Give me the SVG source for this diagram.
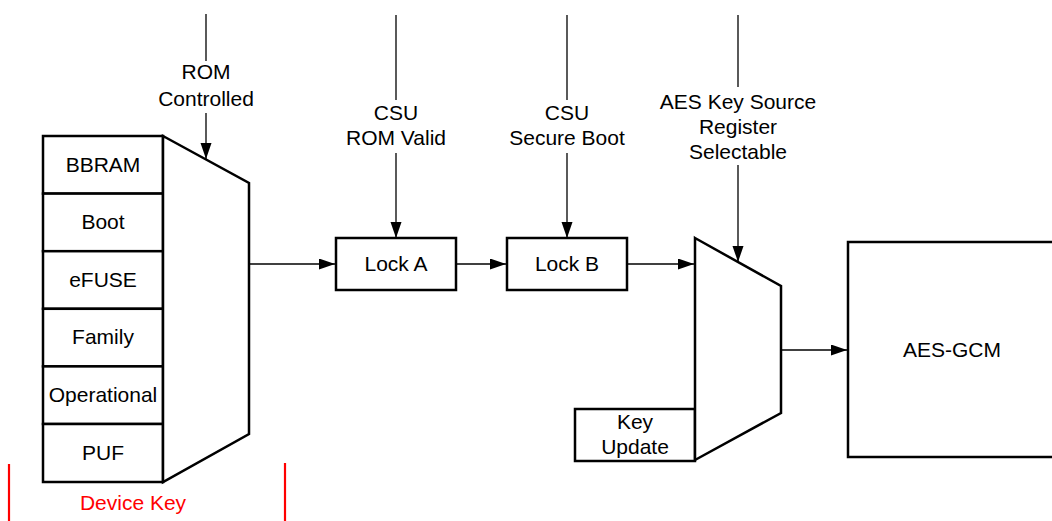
<svg xmlns="http://www.w3.org/2000/svg" width="1052" height="521" viewBox="0 0 1052 521">
<style>
text{font-family:"Liberation Sans",Arial,sans-serif;font-size:21px;fill:#000;text-anchor:middle}
.shape{fill:#fff;stroke:#000;stroke-width:2.5}
.conn{fill:none;stroke:#000;stroke-width:1.3}
.red{stroke:#f00;stroke-width:2.2}
</style>
<defs>
<marker id="arr" markerUnits="userSpaceOnUse" markerWidth="17" markerHeight="12" refX="16" refY="5.5" orient="auto">
<path d="M0,0 L16,5.5 L0,11 Z" fill="#000"/>
</marker>
</defs>
<rect width="1052" height="521" fill="#fff"/>
<g id="device-key-stack">
<rect class="shape" x="43" y="136" width="120" height="57.6"/>
<rect class="shape" x="43" y="193.6" width="120" height="57.6"/>
<rect class="shape" x="43" y="251.2" width="120" height="57.6"/>
<rect class="shape" x="43" y="308.8" width="120" height="57.6"/>
<rect class="shape" x="43" y="366.4" width="120" height="57.6"/>
<rect class="shape" x="43" y="424" width="120" height="58"/>
<text x="103" y="172">BBRAM</text>
<text x="103" y="229">Boot</text>
<text x="103" y="287">eFUSE</text>
<text x="103" y="344">Family</text>
<text x="103" y="402">Operational</text>
<text x="103" y="460">PUF</text>
</g>
<g id="mux1">
<polygon class="shape" points="163,136 249,183 249,434 163,482"/>
</g>
<g id="device-key-label">
<line class="red" x1="9" y1="464" x2="9" y2="521"/>
<line class="red" x1="285" y1="463" x2="285" y2="521"/>
<text x="133" y="510" style="fill:#f00">Device Key</text>
</g>
<g id="lock-a">
<rect class="shape" x="336" y="238" width="120" height="52"/>
<text x="396" y="271">Lock A</text>
</g>
<g id="lock-b">
<rect class="shape" x="507" y="238" width="120" height="52"/>
<text x="567" y="271">Lock B</text>
</g>
<g id="key-update">
<rect class="shape" x="575" y="409" width="120" height="52"/>
<text x="635" y="429">Key</text>
<text x="635" y="454">Update</text>
</g>
<g id="mux2">
<polygon class="shape" points="695,238 781,286 781,413 695,460"/>
</g>
<g id="aes-gcm">
<rect class="shape" x="848" y="242" width="220" height="215"/>
<text x="952" y="357">AES-GCM</text>
</g>
<g id="labels">
<text x="206" y="79">ROM</text>
<text x="206" y="106">Controlled</text>
<text x="396" y="120">CSU</text>
<text x="396" y="145">ROM Valid</text>
<text x="567" y="120">CSU</text>
<text x="567" y="145">Secure Boot</text>
<text x="738" y="109">AES Key Source</text>
<text x="738" y="134">Register</text>
<text x="738" y="159">Selectable</text>
</g>
<g id="connectors">
<line class="conn" x1="206" y1="14" x2="206" y2="61"/>
<line class="conn" x1="206" y1="113" x2="206" y2="159" marker-end="url(#arr)"/>
<line class="conn" x1="396" y1="15" x2="396" y2="100"/>
<line class="conn" x1="396" y1="153" x2="396" y2="238" marker-end="url(#arr)"/>
<line class="conn" x1="567" y1="15" x2="567" y2="100"/>
<line class="conn" x1="567" y1="153" x2="567" y2="238" marker-end="url(#arr)"/>
<line class="conn" x1="738" y1="15" x2="738" y2="87"/>
<line class="conn" x1="738" y1="165" x2="738" y2="262" marker-end="url(#arr)"/>
<line class="conn" x1="250" y1="264" x2="335" y2="264" marker-end="url(#arr)"/>
<line class="conn" x1="457" y1="264" x2="506" y2="264" marker-end="url(#arr)"/>
<line class="conn" x1="628" y1="264" x2="694" y2="264" marker-end="url(#arr)"/>
<line class="conn" x1="782" y1="350" x2="847" y2="350" marker-end="url(#arr)"/>
</g>
</svg>
